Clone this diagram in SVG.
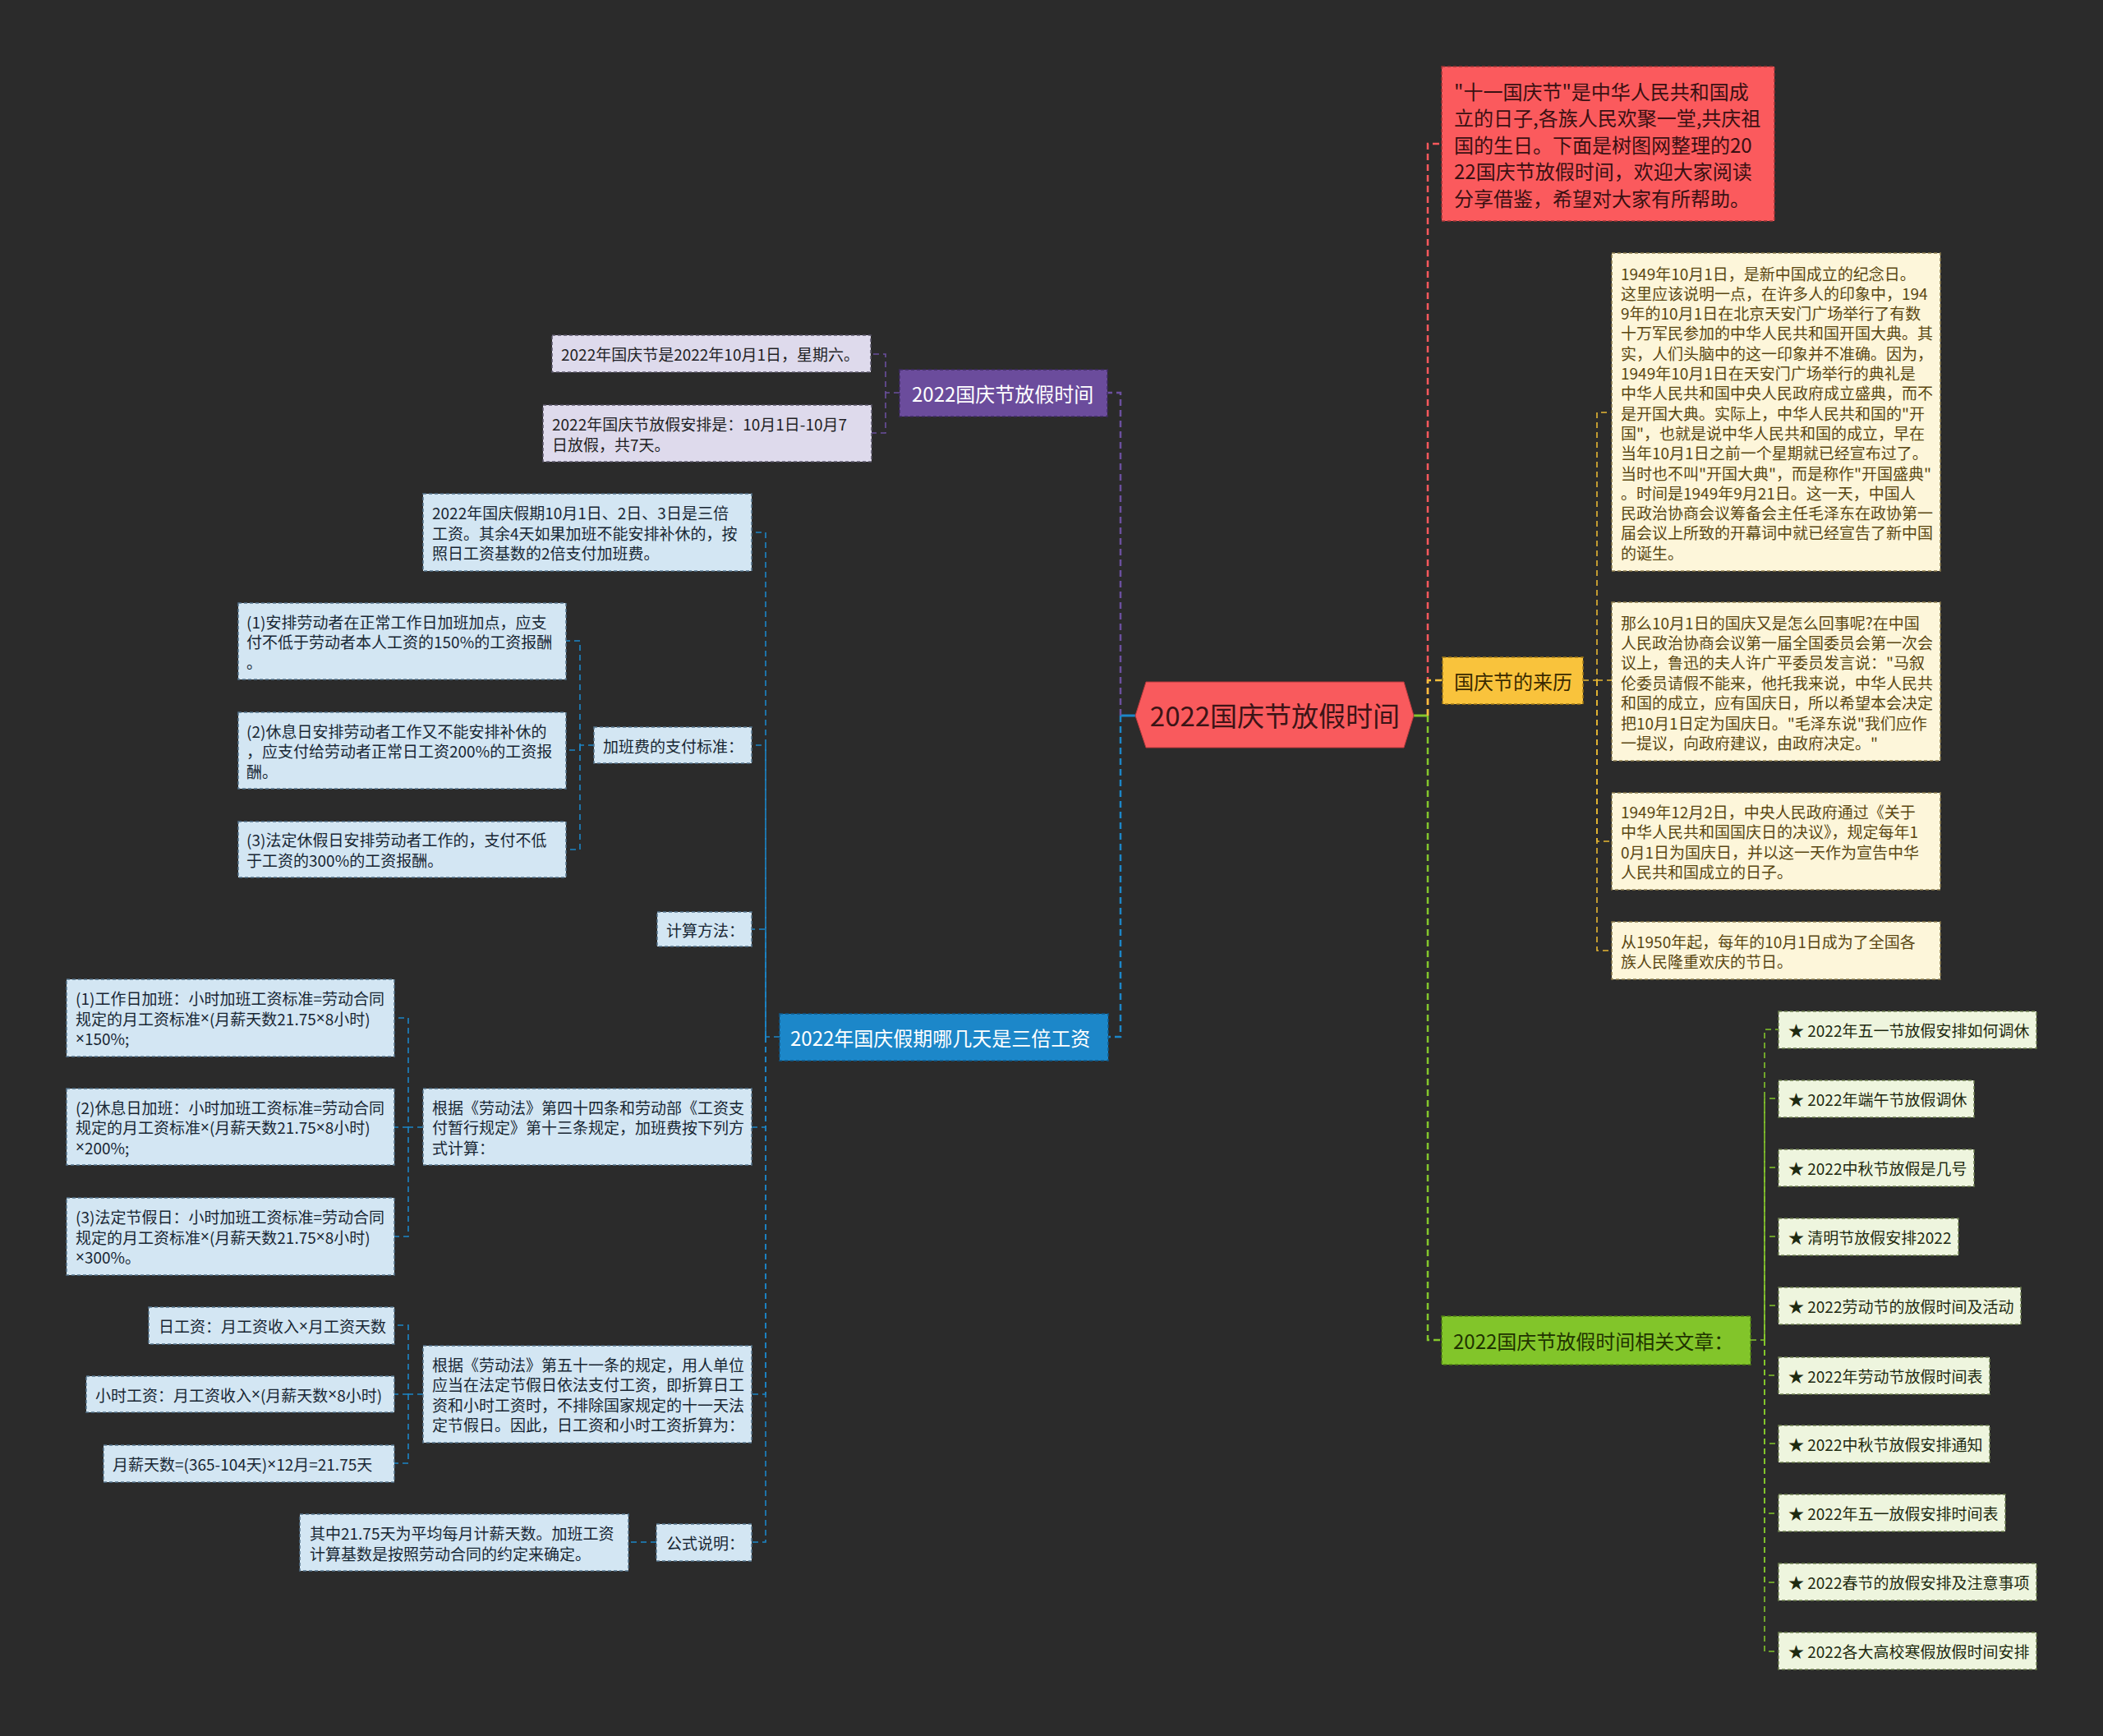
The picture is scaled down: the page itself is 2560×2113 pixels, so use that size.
<svg xmlns="http://www.w3.org/2000/svg" width="2560" height="2113" viewBox="0 0 2560 2113">
<style>
text{font-family:"Noto Sans CJK SC","Noto Sans",sans-serif;dominant-baseline:central}
.x{font-family:"Noto Sans","Liberation Sans",sans-serif}
.s{font-size:19px}
.m{font-size:24px}
.c{fill:none;stroke-width:2.5;stroke-dasharray:8 5}
.cs{fill:none;stroke-width:1.6;stroke-dasharray:7 5}
.bx{stroke-width:1.5;stroke-dasharray:4 3}
.lv{fill:#dedaec;stroke:#5a5668}.lvt{fill:#1f1f24}
.lb{fill:#d3e6f3;stroke:#56748c}.lbt{fill:#182633}
.cr{fill:#fdf6da;stroke:#8c7c4c}.crt{fill:#5a4712}
.lg{fill:#eef5de;stroke:#6d7f50}.lgt{fill:#1e2a10}
</style>
<rect width="2560" height="2113" fill="#2b2b2b"/>
<g id="connectors">
<path d="M1382 871H1364" stroke="#1c86c8" stroke-width="3" fill="none"/>
<path d="M1721 871H1738" stroke="#84c62c" stroke-width="3" fill="none"/>
<path class="c" stroke="#6b4f9e" d="M1364 871V478H1348"/>
<path class="c" stroke="#1c86c8" d="M1364 871V1262H1349"/>
<path class="c" stroke="#f8585c" d="M1738 871V175H1755"/>
<path class="c" stroke="#84c62c" d="M1738 871V1631H1755"/>
<path class="c" stroke="#f5c03c" d="M1738 871V828H1756"/>
<g stroke="#6b4f9e">
<path class="cs" d="M1095 478H1078V431H1060"/>
<path class="cs" d="M1078 478V527H1061"/>
</g>
<g stroke="#1c86c8">
<path class="cs" d="M949 1262H932V648H915"/>
<path class="cs" d="M932 1262V907H915"/>
<path class="cs" d="M932 1262V1131H915"/>
<path class="cs" d="M932 1262V1372H915"/>
<path class="cs" d="M932 1262V1697H915"/>
<path class="cs" d="M932 1262V1877H915"/>
<path class="cs" d="M723 907H706V780H689"/>
<path class="cs" d="M706 907V913H689"/>
<path class="cs" d="M706 907V1034H689"/>
<path class="cs" d="M515 1372H497V1239H480"/>
<path class="cs" d="M497 1372H480"/>
<path class="cs" d="M497 1372V1505H480"/>
<path class="cs" d="M515 1697H497V1613H480"/>
<path class="cs" d="M497 1697H480"/>
<path class="cs" d="M497 1697V1781H480"/>
<path class="cs" d="M799 1877H765"/>
</g>
<g stroke="#e8b834">
<path class="cs" d="M1927 828H1944V502H1962"/>
<path class="cs" d="M1944 828H1962"/>
<path class="cs" d="M1944 828V1024H1962"/>
<path class="cs" d="M1944 828V1157H1962"/>
</g>
<g stroke="#84c62c">
<path class="cs" d="M2131 1631H2148V1253H2165"/>
<path class="cs" d="M2148 1631V1337H2165"/>
<path class="cs" d="M2148 1631V1421H2165"/>
<path class="cs" d="M2148 1631V1505H2165"/>
<path class="cs" d="M2148 1631V1589H2165"/>
<path class="cs" d="M2148 1631V1674H2165"/>
<path class="cs" d="M2148 1631V1757H2165"/>
<path class="cs" d="M2148 1631V1842H2165"/>
<path class="cs" d="M2148 1631V1926H2165"/>
<path class="cs" d="M2148 1631V2010H2165"/>
</g>
</g>
<g id="root">
<polygon points="1382,871 1395,830 1709,830 1721,871 1709,910 1395,910" fill="#f95a5d" stroke="#b8393c" stroke-width="1"/>
<text x="1552" y="870" font-size="33" text-anchor="middle" fill="#3c1416">2022国庆节放假时间</text>
</g>
<g id="intro">
<rect class="bx" x="1755" y="81" width="405" height="188" fill="#fb5a5d" stroke="#9e3436"/>
<g class="m" fill="#3a1012">
<text x="1770" y="110">"十一国庆节"是中华人民共和国成</text>
<text x="1770" y="142.5">立的日子,各族人民欢聚一堂,共庆祖</text>
<text x="1770" y="175">国的生日。下面是树图网整理的20</text>
<text x="1770" y="207.5">22国庆节放假时间，欢迎大家阅读</text>
<text x="1770" y="240">分享借鉴，希望对大家有所帮助。</text>
</g>
</g>
<g id="origin">
<rect class="bx" x="1756" y="800" width="171" height="57" fill="#f9c33c" stroke="#a07a18"/>
<text class="m" x="1770" y="828" fill="#3a2a00">国庆节的来历</text>
</g>
<g id="origin-1">
<rect class="bx cr" x="1962" y="308" width="400" height="387"/>
<g class="s crt">
<text x="1973" y="332">1949年10月1日，是新中国成立的纪念日。</text>
<text x="1973" y="356.3">这里应该说明一点，在许多人的印象中，194</text>
<text x="1973" y="380.6">9年的10月1日在北京天安门广场举行了有数</text>
<text x="1973" y="404.9">十万军民参加的中华人民共和国开国大典。其</text>
<text x="1973" y="429.2">实，人们头脑中的这一印象并不准确。因为，</text>
<text x="1973" y="453.5">1949年10月1日在天安门广场举行的典礼是</text>
<text x="1973" y="477.8">中华人民共和国中央人民政府成立盛典，而不</text>
<text x="1973" y="502.1">是开国大典。实际上，中华人民共和国的"开</text>
<text x="1973" y="526.4">国"，也就是说中华人民共和国的成立，早在</text>
<text x="1973" y="550.7">当年10月1日之前一个星期就已经宣布过了。</text>
<text x="1973" y="575">当时也不叫"开国大典"，而是称作"开国盛典"</text>
<text x="1973" y="599.3">。时间是1949年9月21日。这一天，中国人</text>
<text x="1973" y="623.6">民政治协商会议筹备会主任毛泽东在政协第一</text>
<text x="1973" y="647.9">届会议上所致的开幕词中就已经宣告了新中国</text>
<text x="1973" y="672.2">的诞生。</text>
</g>
</g>
<g id="origin-2">
<rect class="bx cr" x="1962" y="733" width="400" height="193"/>
<g class="s crt">
<text x="1973" y="757">那么10月1日的国庆又是怎么回事呢?在中国</text>
<text x="1973" y="781.4">人民政治协商会议第一届全国委员会第一次会</text>
<text x="1973" y="805.8">议上，鲁迅的夫人许广平委员发言说："马叙</text>
<text x="1973" y="830.2">伦委员请假不能来，他托我来说，中华人民共</text>
<text x="1973" y="854.6">和国的成立，应有国庆日，所以希望本会决定</text>
<text x="1973" y="879">把10月1日定为国庆日。"毛泽东说"我们应作</text>
<text x="1973" y="903.4">一提议，向政府建议，由政府决定。"</text>
</g>
</g>
<g id="origin-3">
<rect class="bx cr" x="1962" y="965" width="400" height="118"/>
<g class="s crt">
<text x="1973" y="987">1949年12月2日，中央人民政府通过《关于</text>
<text x="1973" y="1011.5">中华人民共和国国庆日的决议》，规定每年1</text>
<text x="1973" y="1036">0月1日为国庆日，并以这一天作为宣告中华</text>
<text x="1973" y="1060.5">人民共和国成立的日子。</text>
</g>
</g>
<g id="origin-4">
<rect class="bx cr" x="1962" y="1122" width="400" height="70"/>
<g class="s crt">
<text x="1973" y="1145">从1950年起，每年的10月1日成为了全国各</text>
<text x="1973" y="1169.5">族人民隆重欢庆的节日。</text>
</g>
</g>
<g id="related">
<rect class="bx" x="1755" y="1602" width="376" height="59" fill="#82c52a" stroke="#4f7f14"/>
<text class="m" x="1769" y="1631" fill="#1f3300">2022国庆节放假时间相关文章：</text>
</g>
<g id="related-items" class="s">
<g id="rel-1"><rect class="bx lg" x="2165" y="1231" width="314" height="45"/><text class="lgt" x="2177" y="1253.5">★ 2022年五一节放假安排如何调休</text></g>
<g id="rel-2"><rect class="bx lg" x="2165" y="1315" width="238" height="45"/><text class="lgt" x="2177" y="1337.5">★ 2022年端午节放假调休</text></g>
<g id="rel-3"><rect class="bx lg" x="2165" y="1399" width="238" height="45"/><text class="lgt" x="2177" y="1421.5">★ 2022中秋节放假是几号</text></g>
<g id="rel-4"><rect class="bx lg" x="2165" y="1483" width="219" height="45"/><text class="lgt" x="2177" y="1505.5">★ 清明节放假安排2022</text></g>
<g id="rel-5"><rect class="bx lg" x="2165" y="1567" width="295" height="45"/><text class="lgt" x="2177" y="1589.5">★ 2022劳动节的放假时间及活动</text></g>
<g id="rel-6"><rect class="bx lg" x="2165" y="1652" width="257" height="45"/><text class="lgt" x="2177" y="1674.5">★ 2022年劳动节放假时间表</text></g>
<g id="rel-7"><rect class="bx lg" x="2165" y="1735" width="257" height="45"/><text class="lgt" x="2177" y="1757.5">★ 2022中秋节放假安排通知</text></g>
<g id="rel-8"><rect class="bx lg" x="2165" y="1819" width="276" height="45"/><text class="lgt" x="2177" y="1841.5">★ 2022年五一放假安排时间表</text></g>
<g id="rel-9"><rect class="bx lg" x="2165" y="1903" width="314" height="45"/><text class="lgt" x="2177" y="1925.5">★ 2022春节的放假安排及注意事项</text></g>
<g id="rel-10"><rect class="bx lg" x="2165" y="1987" width="314" height="45"/><text class="lgt" x="2177" y="2009.5">★ 2022各大高校寒假放假时间安排</text></g>
</g>
<g id="holiday">
<rect class="bx" x="1095" y="450" width="253" height="57" fill="#6b4c9c" stroke="#3f2b63"/>
<text class="m" x="1110" y="478" fill="#ffffff">2022国庆节放假时间</text>
</g>
<g id="holiday-1">
<rect class="bx lv" x="672" y="408" width="388" height="45"/>
<text class="s lvt" x="683" y="430.5">2022年国庆节是2022年10月1日，星期六。</text>
</g>
<g id="holiday-2">
<rect class="bx lv" x="661" y="493" width="400" height="69"/>
<text class="s lvt" x="672" y="515.5">2022年国庆节放假安排是：10月1日-10月7</text>
<text class="s lvt" x="672" y="540">日放假，共7天。</text>
</g>
<g id="triple">
<rect class="bx" x="949" y="1234" width="400" height="57" fill="#1c87c9" stroke="#0f5a8a"/>
<text class="m" x="962" y="1262" fill="#ffffff">2022年国庆假期哪几天是三倍工资</text>
</g>
<g id="triple-a" class="s">
<rect class="bx lb" x="515" y="601" width="400" height="94"/>
<text class="lbt" x="526" y="623.5">2022年国庆假期10月1日、2日、3日是三倍</text>
<text class="lbt" x="526" y="648">工资。其余4天如果加班不能安排补休的，按</text>
<text class="lbt" x="526" y="672.5">照日工资基数的2倍支付加班费。</text>
</g>
<g id="triple-b" class="s">
<rect class="bx lb" x="723" y="885" width="192" height="44"/>
<text class="lbt" x="734" y="907">加班费的支付标准：</text>
</g>
<g id="triple-b1" class="s">
<rect class="bx lb" x="290" y="734" width="399" height="93"/>
<text class="lbt" x="300" y="756">(1)安排劳动者在正常工作日加班加点，应支</text>
<text class="lbt" x="300" y="780.5">付不低于劳动者本人工资的150%的工资报酬</text>
<text class="lbt" x="300" y="805">。</text>
</g>
<g id="triple-b2" class="s">
<rect class="bx lb" x="290" y="867" width="399" height="93"/>
<text class="lbt" x="300" y="889">(2)休息日安排劳动者工作又不能安排补休的</text>
<text class="lbt" x="300" y="913.5">，应支付给劳动者正常日工资200%的工资报</text>
<text class="lbt" x="300" y="938">酬。</text>
</g>
<g id="triple-b3" class="s">
<rect class="bx lb" x="290" y="1000" width="399" height="68"/>
<text class="lbt" x="300" y="1021.5">(3)法定休假日安排劳动者工作的，支付不低</text>
<text class="lbt" x="300" y="1046">于工资的300%的工资报酬。</text>
</g>
<g id="triple-c" class="s">
<rect class="bx lb" x="800" y="1110" width="115" height="42"/>
<text class="lbt" x="811" y="1131">计算方法：</text>
</g>
<g id="triple-d" class="s">
<rect class="bx lb" x="515" y="1325" width="400" height="93"/>
<text class="lbt" x="526" y="1347">根据《劳动法》第四十四条和劳动部《工资支</text>
<text class="lbt" x="526" y="1371.5">付暂行规定》第十三条规定，加班费按下列方</text>
<text class="lbt" x="526" y="1396">式计算：</text>
</g>
<g id="triple-d1" class="s">
<rect class="bx lb" x="81" y="1192" width="399" height="94"/>
<text class="lbt" x="92" y="1214.5">(1)工作日加班：小时加班工资标准=劳动合同</text>
<text class="lbt" x="92" y="1239">规定的月工资标准<tspan class="x">×</tspan>(月薪天数21.75<tspan class="x">×</tspan>8小时)</text>
<text class="lbt" x="92" y="1263.5"><tspan class="x">×</tspan>150%;</text>
</g>
<g id="triple-d2" class="s">
<rect class="bx lb" x="81" y="1325" width="399" height="93"/>
<text class="lbt" x="92" y="1347">(2)休息日加班：小时加班工资标准=劳动合同</text>
<text class="lbt" x="92" y="1371.5">规定的月工资标准<tspan class="x">×</tspan>(月薪天数21.75<tspan class="x">×</tspan>8小时)</text>
<text class="lbt" x="92" y="1396"><tspan class="x">×</tspan>200%;</text>
</g>
<g id="triple-d3" class="s">
<rect class="bx lb" x="81" y="1458" width="399" height="94"/>
<text class="lbt" x="92" y="1480.5">(3)法定节假日：小时加班工资标准=劳动合同</text>
<text class="lbt" x="92" y="1505">规定的月工资标准<tspan class="x">×</tspan>(月薪天数21.75<tspan class="x">×</tspan>8小时)</text>
<text class="lbt" x="92" y="1529.5"><tspan class="x">×</tspan>300%。</text>
</g>
<g id="triple-e" class="s">
<rect class="bx lb" x="515" y="1638" width="400" height="118"/>
<text class="lbt" x="526" y="1660">根据《劳动法》第五十一条的规定，用人单位</text>
<text class="lbt" x="526" y="1684.5">应当在法定节假日依法支付工资，即折算日工</text>
<text class="lbt" x="526" y="1709">资和小时工资时，不排除国家规定的十一天法</text>
<text class="lbt" x="526" y="1733.5">定节假日。因此，日工资和小时工资折算为：</text>
</g>
<g id="triple-e1" class="s">
<rect class="bx lb" x="181" y="1591" width="299" height="45"/>
<text class="lbt" x="193" y="1613.5">日工资：月工资收入<tspan class="x">×</tspan>月工资天数</text>
</g>
<g id="triple-e2" class="s">
<rect class="bx lb" x="105" y="1675" width="375" height="44"/>
<text class="lbt" x="116" y="1697">小时工资：月工资收入<tspan class="x">×</tspan>(月薪天数<tspan class="x">×</tspan>8小时)</text>
</g>
<g id="triple-e3" class="s">
<rect class="bx lb" x="126" y="1759" width="354" height="45"/>
<text class="lbt" x="137" y="1781.5">月薪天数=(365-104天)<tspan class="x">×</tspan>12月=21.75天</text>
</g>
<g id="triple-f" class="s">
<rect class="bx lb" x="799" y="1855" width="116" height="45"/>
<text class="lbt" x="811" y="1877.5">公式说明：</text>
</g>
<g id="triple-f1" class="s">
<rect class="bx lb" x="365" y="1843" width="400" height="69"/>
<text class="lbt" x="377" y="1865.5">其中21.75天为平均每月计薪天数。加班工资</text>
<text class="lbt" x="377" y="1890">计算基数是按照劳动合同的约定来确定。</text>
</g>
</svg>
